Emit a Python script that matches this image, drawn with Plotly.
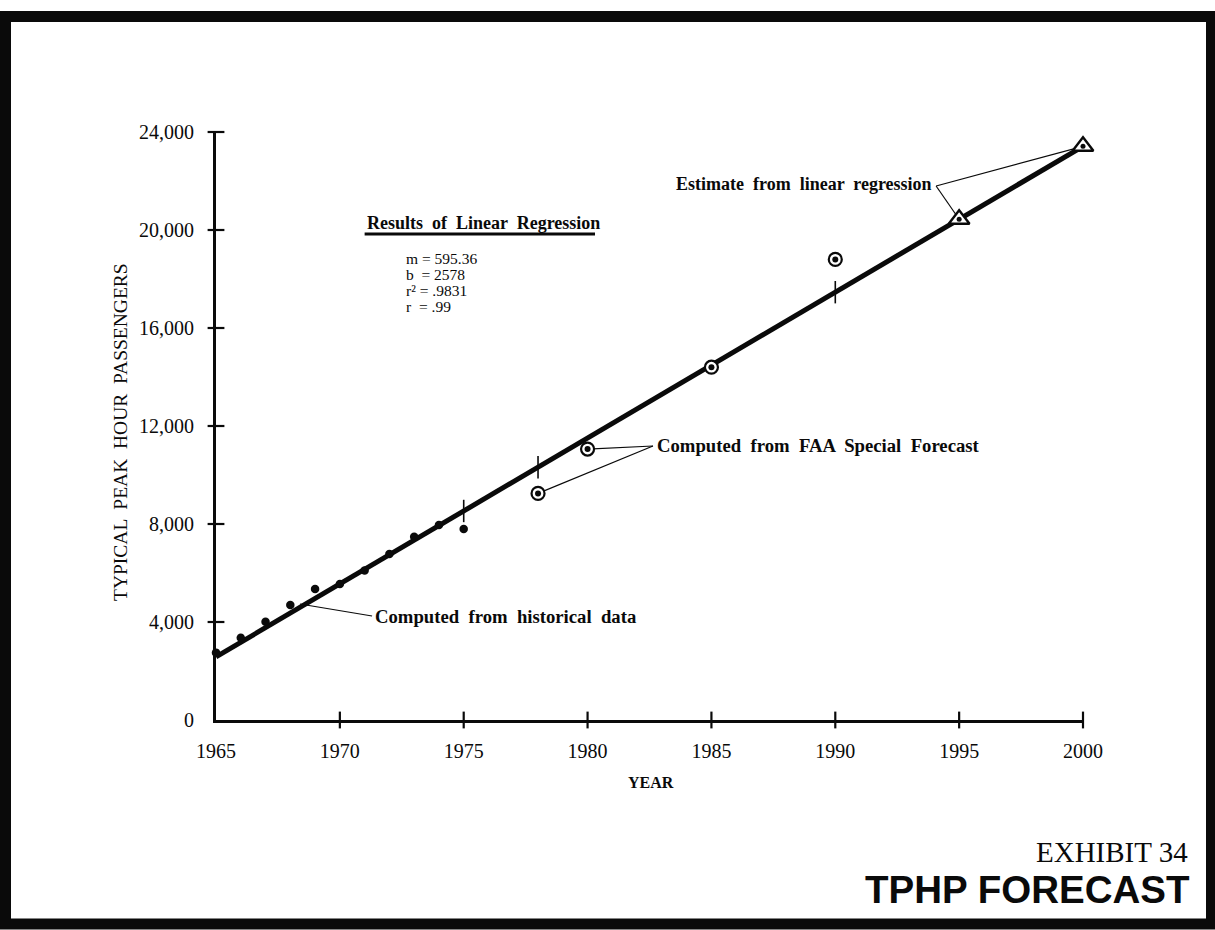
import plotly.graph_objects as go

# Historical typical peak hour passengers (1965-1975)
hist_years = [1965, 1966, 1967, 1968, 1969, 1970, 1971, 1972, 1973, 1974, 1975]
hist_tphp = [2750, 3360, 4010, 4690, 5350, 5550, 6100, 6780, 7480, 7960, 7800]

# Values computed from the FAA special forecast
faa_years = [1978, 1980, 1985, 1990]
faa_tphp = [9250, 11060, 14400, 18800]

# Estimates from the linear regression
est_years = [1995, 2000]
est_tphp = [20439, 23416]

# Regression results: y = b + m * (year - 1965)
reg_m = 595.36
reg_b = 2578
reg_r2 = ".9831"
reg_r = ".99"
reg_years = [1965, 2000]
reg_tphp = [reg_b + reg_m * (yr - 1965) for yr in reg_years]

# Short marks across the regression line
mark_years = [1975, 1978, 1990]
mark_tphp = [reg_b + reg_m * (yr - 1965) for yr in mark_years]

x_ticks = [1965, 1970, 1975, 1980, 1985, 1990, 1995, 2000]
y_ticks = [0, 4000, 8000, 12000, 16000, 20000, 24000]

W, H = 1215, 930
L, R, T, B = 216, 1083, 132, 720  # plot area in pixels


def px(xp):
    return (xp - L) / (R - L)


def py(yp):
    return (B - yp) / (B - T)


SERIF = "Liberation Serif, Times New Roman, serif"
SANS = "Liberation Sans, Arial, Helvetica, sans-serif"
INK = "#0a0a0a"

fig = go.Figure()

# regression line
fig.add_trace(go.Scatter(x=reg_years, y=reg_tphp, mode="lines",
                         line=dict(color=INK, width=5), cliponaxis=False))

# small cross marks on the line
fig.add_trace(go.Scatter(x=mark_years, y=mark_tphp, mode="markers",
                         marker=dict(symbol="line-ns", size=16,
                                     line=dict(color=INK, width=1.6)),
                         cliponaxis=False))

# historical points
fig.add_trace(go.Scatter(x=hist_years, y=hist_tphp, mode="markers",
                         marker=dict(symbol="circle", size=8.5, color=INK),
                         cliponaxis=False))

# FAA forecast points: ring plus centre dot
fig.add_trace(go.Scatter(x=faa_years, y=faa_tphp, mode="markers",
                         marker=dict(symbol="circle", size=13, color="white",
                                     line=dict(color=INK, width=2.2)),
                         cliponaxis=False))
fig.add_trace(go.Scatter(x=faa_years, y=faa_tphp, mode="markers",
                         marker=dict(symbol="circle", size=6, color=INK),
                         cliponaxis=False))

# regression estimates: triangle plus centre dot
fig.add_trace(go.Scatter(x=est_years, y=est_tphp, mode="markers",
                         marker=dict(symbol="triangle-up", size=18, color="white",
                                     line=dict(color=INK, width=2.4)),
                         cliponaxis=False))
fig.add_trace(go.Scatter(x=est_years, y=est_tphp, mode="markers",
                         marker=dict(symbol="circle", size=5, color=INK),
                         cliponaxis=False))

# axis tick crosses
fig.add_trace(go.Scatter(x=[1965] * (len(y_ticks) - 1), y=y_ticks[1:], mode="markers",
                         marker=dict(symbol="line-ew", size=12,
                                     line=dict(color=INK, width=2.2)),
                         cliponaxis=False))
fig.add_trace(go.Scatter(x=x_ticks[1:], y=[0] * (len(x_ticks) - 1), mode="markers",
                         marker=dict(symbol="line-ns", size=12,
                                     line=dict(color=INK, width=2.2)),
                         cliponaxis=False))

shapes = []


def leader(x0, y0, x1, y1, w=1.2):
    shapes.append(dict(type="line", xref="x", yref="y", x0=x0, y0=y0, x1=x1, y1=y1,
                       line=dict(color=INK, width=w), layer="below"))


# leader lines
leader(1971.30, 4245, 1968.39, 4735)
leader(1982.64, 11184, faa_years[1], faa_tphp[1])
leader(1982.64, 11184, faa_years[0], faa_tphp[0])
leader(1994.07, 21796, est_years[1], est_tphp[1])
leader(1994.07, 21796, est_years[0], est_tphp[0])

# underline of the regression results heading
shapes.append(dict(type="line", xref="x", yref="y", x0=1971.0, x1=1980.30,
                   y0=19837, y1=19837, line=dict(color=INK, width=3)))

# outer frame
shapes.append(dict(type="rect", xref="paper", yref="paper",
                   x0=px(5.5), x1=px(1211.5), y0=py(924), y1=py(16.5),
                   line=dict(color=INK, width=11)))

ann = []


def text(x, y, s, size=18, anchor="left", bold=True, font=SERIF):
    ann.append(dict(x=x, y=y, xref="x", yref="y",
                    text=(f"<b>{s}</b>" if bold else s), showarrow=False,
                    xanchor=anchor, yanchor="middle",
                    font=dict(family=font, size=size, color=INK)))


text(1971.34, 4245, "Computed  from  historical  data", size=18.7)
text(1982.72, 11184, "Computed  from  FAA  Special  Forecast", size=18.7)
text(1993.99, 21878, "Estimate  from  linear  regression", size=18, anchor="right")

text(1971.02, 20286, "Results  of  Linear  Regression", size=18)

# regression result lines, 16 px apart
res_lines = [f"m = {reg_m}", f"b \u00a0= {reg_b}", f"r\u00b2 = {reg_r2}", f"r \u00a0= {reg_r}"]
for i, line in enumerate(res_lines):
    text(1972.59, (B - (258 + 16 * i)) * 24000 / (B - T), line, size=15.5, bold=False)

# axis titles
ann.append(dict(x=px(120), y=py(432), xref="paper", yref="paper",
                text="TYPICAL  PEAK  HOUR  PASSENGERS", textangle=-90, showarrow=False,
                xanchor="center", yanchor="middle",
                font=dict(family=SERIF, size=19.5, color=INK)))
ann.append(dict(x=px(651), y=py(782), xref="paper", yref="paper",
                text="<b>YEAR</b>", showarrow=False, xanchor="center", yanchor="middle",
                font=dict(family=SERIF, size=16, color=INK)))

# exhibit title
ann.append(dict(x=px(1190), y=py(852), xref="paper", yref="paper",
                text="EXHIBIT 34", showarrow=False, xanchor="right", yanchor="middle",
                font=dict(family=SERIF, size=29, color=INK)))
ann.append(dict(x=px(1192), y=py(889), xref="paper", yref="paper",
                text="<b>TPHP FORECAST</b>", showarrow=False, xanchor="right",
                yanchor="middle", font=dict(family=SANS, size=38.5, color=INK)))

fig.update_layout(
    width=W, height=H,
    margin=dict(l=L, r=W - R, t=T, b=H - B, pad=0),
    paper_bgcolor="white", plot_bgcolor="white",
    showlegend=False, hovermode=False,
    shapes=shapes, annotations=ann,
    xaxis=dict(range=[1965, 2000], tickvals=x_ticks, ticktext=[str(v) for v in x_ticks],
               showgrid=False, zeroline=False, showline=True, linecolor=INK, linewidth=3,
               ticks="", ticklabelstandoff=11,
               tickfont=dict(family=SERIF, size=20, color=INK)),
    yaxis=dict(range=[0, 24000], tickvals=y_ticks, tickformat=",d",
               showgrid=False, zeroline=False, showline=True, linecolor=INK, linewidth=3,
               ticks="", ticklabelstandoff=15,
               tickfont=dict(family=SERIF, size=20, color=INK)),
)

fig.write_html("out.html", config={"displayModeBar": False})
